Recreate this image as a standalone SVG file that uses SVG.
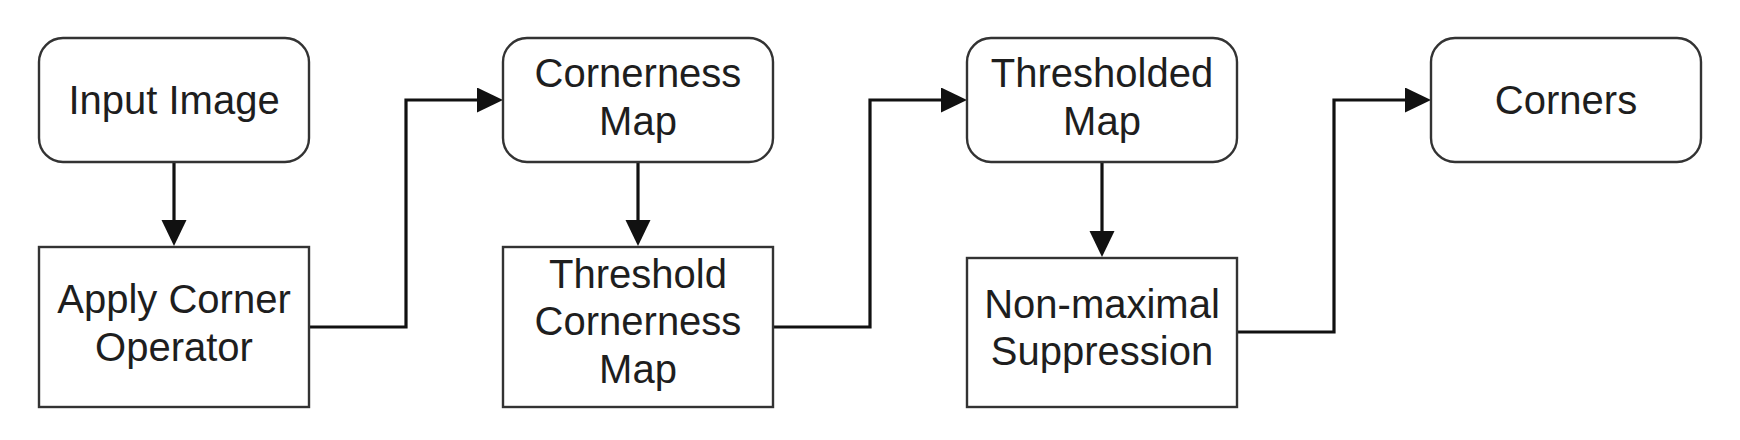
<svg xmlns="http://www.w3.org/2000/svg" width="1740" height="440" viewBox="0 0 1740 440">
  <style>
    .box { fill: #ffffff; stroke: #333333; stroke-width: 2.4; }
    .lbl { font-family: "Liberation Sans", Arial, sans-serif; font-size: 40px; fill: #1e1e1e; text-anchor: middle; }
    .con { fill: none; stroke: #111111; stroke-width: 3.2; stroke-linejoin: miter; }
  </style>
  <defs>
    <marker id="arrow" markerUnits="userSpaceOnUse" markerWidth="27" markerHeight="26" refX="16" refY="12.5" orient="auto">
      <path d="M0,0 L26,12.5 L0,25 z" fill="#111111"/>
    </marker>
  </defs>
  <rect width="1740" height="440" fill="#ffffff"/>

  <g id="connectors">
    <path class="con" d="M174,162 L174,236" marker-end="url(#arrow)"/>
    <path class="con" d="M309,327 L406,327 L406,100 L493,100" marker-end="url(#arrow)"/>
    <path class="con" d="M638,162 L638,236" marker-end="url(#arrow)"/>
    <path class="con" d="M773,327 L870,327 L870,100 L957,100" marker-end="url(#arrow)"/>
    <path class="con" d="M1102,162 L1102,247" marker-end="url(#arrow)"/>
    <path class="con" d="M1237,332 L1334,332 L1334,100 L1421,100" marker-end="url(#arrow)"/>
  </g>

  <g id="input-image">
    <rect class="box" x="39" y="38" width="270" height="124" rx="24" ry="24"/>
    <text class="lbl" x="174" y="114">Input Image</text>
  </g>
  <g id="apply-corner-operator">
    <rect class="box" x="39" y="247" width="270" height="160"/>
    <text class="lbl" x="174" y="313">Apply Corner</text>
    <text class="lbl" x="174" y="361">Operator</text>
  </g>
  <g id="cornerness-map">
    <rect class="box" x="503" y="38" width="270" height="124" rx="24" ry="24"/>
    <text class="lbl" x="638" y="87">Cornerness</text>
    <text class="lbl" x="638" y="135">Map</text>
  </g>
  <g id="threshold-cornerness-map">
    <rect class="box" x="503" y="247" width="270" height="160"/>
    <text class="lbl" x="638" y="288">Threshold</text>
    <text class="lbl" x="638" y="335">Cornerness</text>
    <text class="lbl" x="638" y="383">Map</text>
  </g>
  <g id="thresholded-map">
    <rect class="box" x="967" y="38" width="270" height="124" rx="24" ry="24"/>
    <text class="lbl" x="1102" y="87">Thresholded</text>
    <text class="lbl" x="1102" y="135">Map</text>
  </g>
  <g id="non-maximal-suppression">
    <rect class="box" x="967" y="258" width="270" height="149"/>
    <text class="lbl" x="1102" y="318">Non-maximal</text>
    <text class="lbl" x="1102" y="365">Suppression</text>
  </g>
  <g id="corners">
    <rect class="box" x="1431" y="38" width="270" height="124" rx="24" ry="24"/>
    <text class="lbl" x="1566" y="114">Corners</text>
  </g>
</svg>
